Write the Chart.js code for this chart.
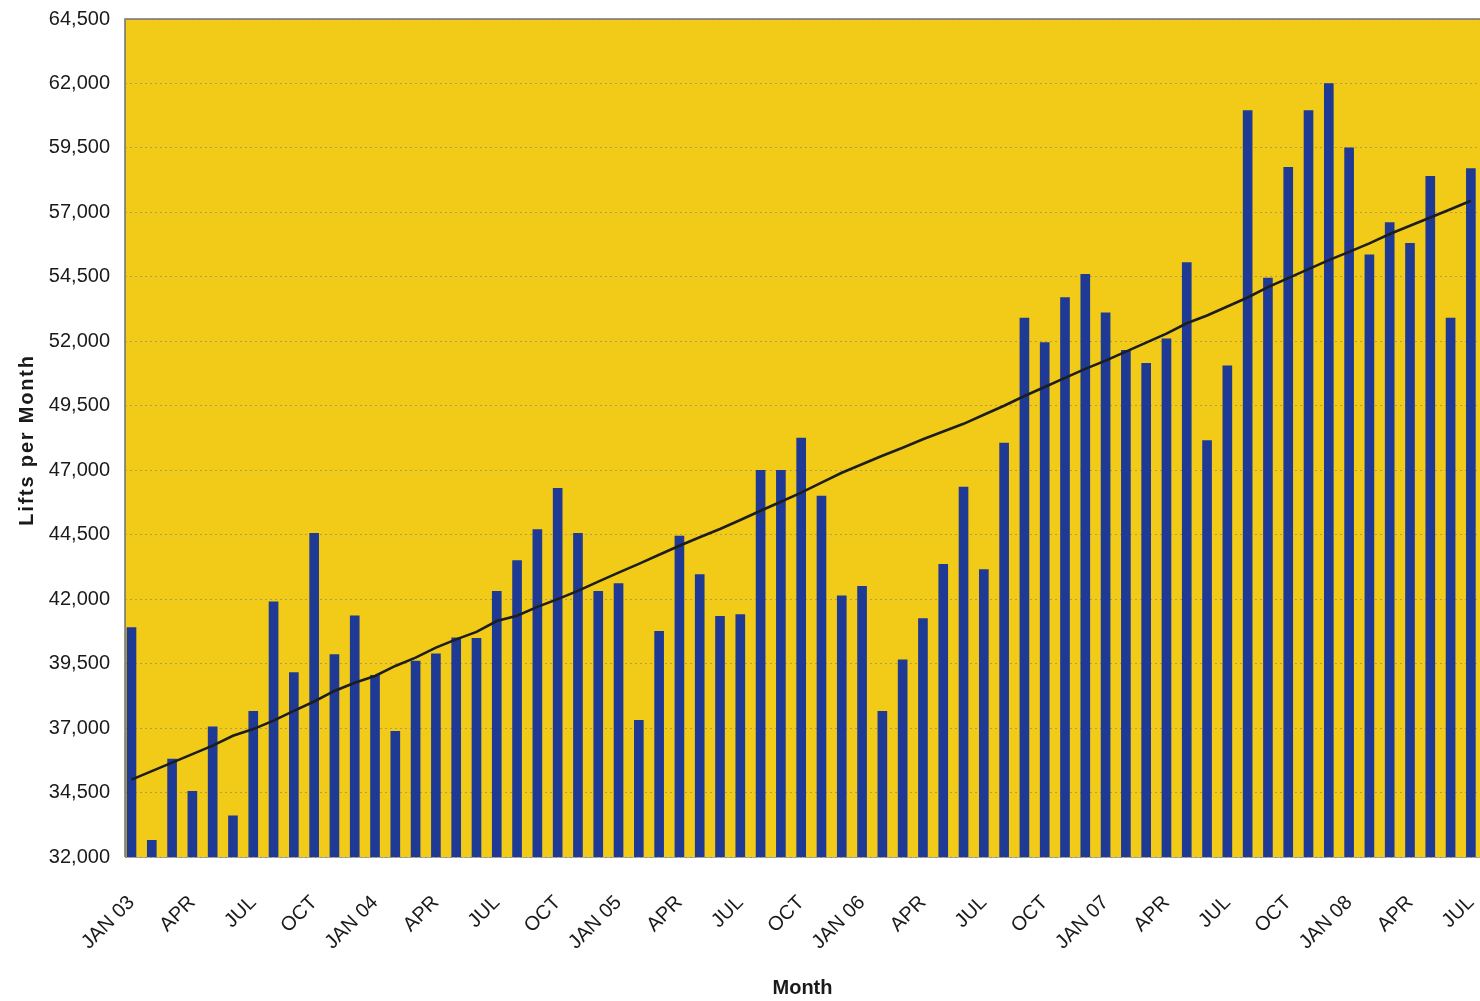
<!DOCTYPE html>
<html>
<head>
<meta charset="utf-8">
<title>Lifts per Month</title>
<script src="https://cdn.jsdelivr.net/npm/chart.js@4/dist/chart.umd.min.js"></script>
<style>
  html, body { margin: 0; padding: 0; background: #ffffff; }
  #wrap { width: 1480px; height: 1001px; }
</style>
</head>
<body>
<div id="wrap"><canvas id="chart" width="1480" height="1001"></canvas></div>
<script>
// Months from January 2003 to July 2008 (every third one is labelled on the axis)
const months = [
  'JAN 03','FEB','MAR','APR','MAY','JUN','JUL','AUG','SEP','OCT','NOV','DEC',
  'JAN 04','FEB','MAR','APR','MAY','JUN','JUL','AUG','SEP','OCT','NOV','DEC',
  'JAN 05','FEB','MAR','APR','MAY','JUN','JUL','AUG','SEP','OCT','NOV','DEC',
  'JAN 06','FEB','MAR','APR','MAY','JUN','JUL','AUG','SEP','OCT','NOV','DEC',
  'JAN 07','FEB','MAR','APR','MAY','JUN','JUL','AUG','SEP','OCT','NOV','DEC',
  'JAN 08','FEB','MAR','APR','MAY','JUN','JUL'
];

// Monthly lifts
const lifts = [
  40900, 32650, 35800, 34550, 37050, 33600, 37650, 41900, 39150, 44550, 39850, 41350,
  39050, 36870, 39600, 39880, 40500, 40480, 42300, 43500, 44700, 46300, 44550, 42300,
  42600, 37300, 40750, 44450, 42950, 41330, 41400, 47000, 47000, 48250, 46000, 42130,
  42500, 37650, 39650, 41250, 43350, 46350, 43150, 48050, 52900, 51950, 53700, 54600,
  53100, 51650, 51150, 52100, 55050, 48150, 51050, 60950, 54450, 58750, 60950, 62000,
  59500, 55350, 56600, 55800, 58400, 52900, 58700
];

// Trend line through the monthly figures
const trend = [
  35000, 35330, 35660, 35990, 36320, 36700, 36960, 37290, 37670, 38030, 38440, 38760,
  39020, 39410, 39730, 40120, 40440, 40730, 41150, 41360, 41700, 42000, 42320, 42680,
  43030, 43370, 43720, 44070, 44400, 44720, 45070, 45430, 45780, 46130, 46520, 46900,
  47230, 47560, 47870, 48200, 48500, 48800, 49150, 49500, 49880, 50230, 50580, 50930,
  51250, 51600, 51950, 52300, 52700, 53000, 53350, 53700, 54100, 54450, 54800, 55150,
  55470, 55800, 56160, 56480, 56800, 57120, 57450
];

// Value axis range and step
const yMin = 32000, yMax = 64500, yStep = 2500;
const yTitle = 'Lifts per Month';

const barPoints = lifts.map((v, i) => ({ x: i, y: v }));
const trendPoints = trend.map((v, i) => ({ x: i, y: v }));
const quarterTicks = months.map((m, i) => i).filter(i => i % 3 === 0);

// Yellow plot background with thin frame
const plotBackground = {
  id: 'plotBackground',
  beforeDraw(chart) {
    const { ctx, chartArea: a } = chart;
    ctx.save();
    ctx.fillStyle = '#F1CB17';
    ctx.fillRect(a.left, a.top, a.right - a.left, a.bottom - a.top);
    ctx.strokeStyle = '#6f6f78';
    ctx.lineWidth = 1.5;
    ctx.beginPath();
    ctx.moveTo(a.left, a.bottom);
    ctx.lineTo(a.left, a.top);
    ctx.lineTo(a.right, a.top);
    ctx.stroke();
    ctx.strokeStyle = '#a9a9b0';
    ctx.lineWidth = 1;
    ctx.beginPath();
    ctx.moveTo(a.left, a.bottom + 0.5);
    ctx.lineTo(a.right, a.bottom + 0.5);
    ctx.stroke();
    ctx.restore();
  }
};

// Spaced-out vertical title for the value axis
const valueAxisTitle = {
  id: 'valueAxisTitle',
  afterDraw(chart) {
    const { ctx, chartArea: a } = chart;
    ctx.save();
    ctx.translate(27, (a.top + a.bottom) / 2 + 2);
    ctx.rotate(-Math.PI / 2);
    ctx.font = 'bold 20px "Liberation Sans", Arial, sans-serif';
    ctx.fillStyle = '#1a1a1a';
    ctx.textAlign = 'center';
    ctx.textBaseline = 'middle';
    if ('letterSpacing' in ctx) ctx.letterSpacing = '1.8px';
    ctx.fillText(yTitle, 0, 0);
    ctx.restore();
  }
};

Chart.defaults.font.family = '"Liberation Sans", Arial, sans-serif';
Chart.defaults.color = '#1a1a1a';

new Chart(document.getElementById('chart'), {
  type: 'bar',
  data: {
    datasets: [
      {
        type: 'line',
        label: 'Trend',
        data: trendPoints,
        borderColor: '#1d1d1d',
        borderWidth: 2.6,
        pointRadius: 0,
        tension: 0,
        order: 0
      },
      {
        type: 'bar',
        label: yTitle,
        data: barPoints,
        backgroundColor: '#1F3A94',
        borderWidth: 0,
        barThickness: 9,
        order: 1
      }
    ]
  },
  options: {
    responsive: false,
    animation: false,
    layout: { padding: { left: 15, top: 19, right: 0, bottom: 1 } },
    plugins: {
      legend: { display: false },
      tooltip: { enabled: false }
    },
    scales: {
      x: {
        type: 'linear',
        min: -0.32,
        max: 66.45,
        offset: false,
        grid: { display: false, drawTicks: false },
        border: { display: false },
        afterBuildTicks(scale) {
          scale.ticks = quarterTicks.map(v => ({ value: v }));
        },
        afterFit(scale) {
          scale.height = 143;
          scale.paddingLeft = 0;
          scale.paddingRight = 0;
        },
        ticks: {
          autoSkip: false,
          minRotation: 45,
          maxRotation: 45,
          padding: 34,
          font: { size: 20 },
          callback: (value) => months[value]
        },
        title: {
          display: true,
          text: 'Month',
          font: { size: 20, weight: 'bold' },
          padding: 0
        }
      },
      y: {
        min: yMin,
        max: yMax,
        afterFit(scale) {
          scale.width = 110;
          scale.paddingTop = 0;
          scale.paddingBottom = 0;
        },
        grid: {
          color: 'rgba(150,140,115,0.75)',
          lineWidth: 1,
          drawTicks: false
        },
        border: { display: false, dash: [2, 3] },
        ticks: {
          stepSize: yStep,
          padding: 15,
          font: { size: 20 },
          callback: (v) => v.toLocaleString('en-US')
        }
      }
    }
  },
  plugins: [plotBackground, valueAxisTitle]
});
</script>
</body>
</html>
